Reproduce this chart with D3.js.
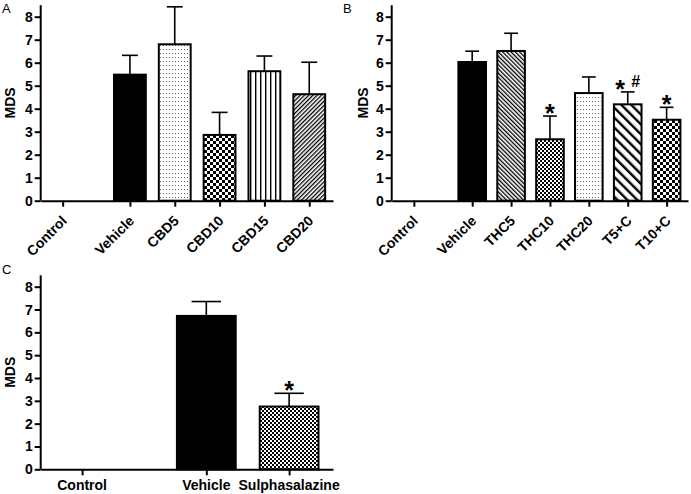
<!DOCTYPE html>
<html><head><meta charset="utf-8">
<script src="https://cdn.jsdelivr.net/npm/d3@7"></script>
<style>
body{margin:0;background:#fff;}
svg{display:block;font-family:"Liberation Sans",Arial,sans-serif;}
</style></head>
<body>
<svg id="c" width="691" height="494"></svg>
<script>
// ---- data ----
const catsA = ["Control","Vehicle","CBD5","CBD10","CBD15","CBD20"];
const meanA = [0, 5.48, 6.80, 2.86, 5.63, 4.63];
const semA  = [0, 0.84, 1.63, 0.98, 0.66, 1.39];
const sigA  = ["","","","","",""];
const fillA = ["none","black","dots","checker","vlines","diagR"];

const catsB = ["Control","Vehicle","THC5","THC10","THC20","T5+C","T10+C"];
const meanB = [0, 6.03, 6.51, 2.67, 4.68, 4.19, 3.52];
const semB  = [0, 0.47, 0.77, 1.01, 0.70, 0.54, 0.54];
const sigB  = ["","","","*","","*#","*"];
const fillB = ["none","black","diagL","fineChecker","dots","wideDiagL","checker"];

const catsC = ["Control","Vehicle","Sulphasalazine"];
const meanC = [0, 6.72, 2.75];
const semC  = [0, 0.63, 0.58];
const sigC  = ["","","*"];
const fillC = ["none","black","fineChecker"];

const yTicks = [0,1,2,3,4,5,6,7,8];
const yLabel = "MDS";

// ---- layout ----
const svg = d3.select("#c");
const defs = svg.append("defs");
function pat(id, w, h, rot, draw){
  const p = defs.append("pattern").attr("id", id).attr("patternUnits","userSpaceOnUse")
    .attr("width", w).attr("height", h);
  if (rot) p.attr("patternTransform", `rotate(${rot})`);
  p.append("rect").attr("width", w).attr("height", h).attr("fill", "#fff");
  draw(p);
}
pat("dots", 3, 4, 0, p => p.append("rect").attr("x",1).attr("y",1).attr("width",1).attr("height",1).attr("fill","#666"));
pat("checker", 6, 6, 0, p => { p.append("rect").attr("width",3).attr("height",3).attr("fill","#000");
  p.append("rect").attr("x",3).attr("y",3).attr("width",3).attr("height",3).attr("fill","#000"); });
pat("fineChecker", 4, 4, 0, p => { p.append("rect").attr("width",2).attr("height",2).attr("fill","#000");
  p.append("rect").attr("x",2).attr("y",2).attr("width",2).attr("height",2).attr("fill","#000"); });
pat("vlines", 5, 5, 0, p => p.append("rect").attr("x",0).attr("width",1.4).attr("height",5).attr("fill","#000"));
pat("diagR", 3, 3, 45, p => p.append("rect").attr("width",1.3).attr("height",3).attr("fill","#000"));
pat("diagL", 3, 3, -45, p => p.append("rect").attr("width",1.3).attr("height",3).attr("fill","#000"));
pat("wideDiagL", 7, 7, -45, p => p.append("rect").attr("width",2.4).attr("height",7).attr("fill","#000"));

const panels = [
  {tag:"A", cats:catsA, mean:meanA, sem:semA, sig:sigA, fill:fillA, gap:1.5,
   xr:[40.7,333], pad:[0.49,0.53], yr:[200.7,16.7], rotate:true, tagXY:[2,13], mdsX:15},
  {tag:"B", cats:catsB, mean:meanB, sem:semB, sig:sigB, fill:fillB, gap:1.5,
   xr:[391.7,688], pad:[0.57,0.55], yr:[200.7,16.7], rotate:true, tagXY:[343,13], mdsX:368},
  {tag:"C", cats:catsC, mean:meanC, sem:semC, sig:sigC, fill:fillC, gap:1.5,
   xr:[40.7,333], pad:[0.5,0.53], yr:[469.3,286.7], rotate:false, tagXY:[2,274], mdsX:15}
];

panels.forEach(P => {
  const slots = P.cats.map((c,i) => i === 0 ? 0 : P.gap + (i-1));
  const n = slots[slots.length-1];
  const x = d3.scaleLinear().domain([-P.pad[0], n + P.pad[1]]).range(P.xr);
  const y = d3.scaleLinear().domain([0, 8]).range(P.yr);
  const yTopV = 8.5;
  const g = svg.append("g");
  const bw = (x(1)-x(0))*0.71;

  // bars + error bars + significance marks
  P.cats.forEach((c,i) => {
    if (P.mean[i] <= 0) return;
    const cx = x(slots[i]);
    const f = P.fill[i] === "black" ? "#000" : `url(#${P.fill[i]})`;
    g.append("rect").attr("x", cx-bw/2).attr("y", y(P.mean[i]))
      .attr("width", bw).attr("height", y(0)-y(P.mean[i]))
      .attr("fill", f).attr("stroke","#000").attr("stroke-width",2);
    const top = y(P.mean[i]+P.sem[i]);
    g.append("line").attr("x1",cx).attr("x2",cx).attr("y1",y(P.mean[i])).attr("y2",top)
      .attr("stroke","#000").attr("stroke-width",1.6);
    g.append("line").attr("x1",cx-bw/4).attr("x2",cx+bw/4).attr("y1",top).attr("y2",top)
      .attr("stroke","#000").attr("stroke-width",1.6);
    const s = P.sig[i];
    if (s.includes("*")) {
      const hasHash = s.includes("#");
      g.append("text").attr("x", hasHash ? cx-7.5 : cx).attr("y", top+6)
        .attr("text-anchor","middle").attr("font-size",25).attr("font-weight","bold").text("*");
      if (hasHash) g.append("text").attr("x", cx+8).attr("y", top-5)
        .attr("text-anchor","middle").attr("font-size",16).attr("font-weight","bold").text("#");
    }
  });

  // axes
  const ya = g.append("g").attr("transform",`translate(${P.xr[0]},0)`)
    .call(d3.axisLeft(y).tickValues(yTicks).tickSize(6).tickPadding(2).tickSizeOuter(0));
  ya.select(".domain").attr("d", `M0,${y(0)}V${y(yTopV)}`);
  const xa = g.append("g").attr("transform",`translate(0,${y(0)})`)
    .call(d3.axisBottom(x).tickValues(slots).tickFormat("").tickSize(6).tickSizeOuter(0));
  [ya, xa].forEach(a => {
    a.select(".domain").attr("stroke","#000").attr("stroke-width",2);
    a.selectAll(".tick line").attr("stroke","#000").attr("stroke-width",2);
    a.selectAll("text").attr("font-family","Liberation Sans, Arial, sans-serif")
      .attr("font-size",14).attr("font-weight","bold").attr("fill","#000");
  });

  // category labels
  P.cats.forEach((c,i) => {
    const t = g.append("text").attr("font-size",14).attr("font-weight","bold").attr("fill","#000").text(c);
    if (P.rotate) {
      t.attr("text-anchor","end")
       .attr("transform",`translate(${x(slots[i])+5},${y(0)+21}) rotate(-45)`);
    } else {
      t.attr("text-anchor","middle").attr("x",x(slots[i])).attr("y",y(0)+21);
    }
  });

  g.append("text").attr("transform",`translate(${P.mdsX},${(y(0)+y(yTopV))/2}) rotate(-90)`)
    .attr("text-anchor","middle").attr("font-size",14).attr("font-weight","bold").text(yLabel);
  g.append("text").attr("x",P.tagXY[0]).attr("y",P.tagXY[1]).attr("font-size",13).text(P.tag);
});
</script>
</body></html>
